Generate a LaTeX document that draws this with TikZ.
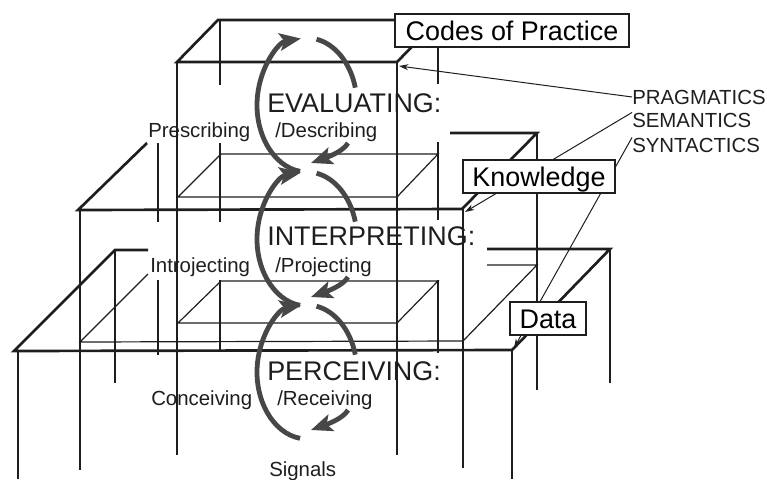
\documentclass[tikz,border=0pt]{standalone}
\usepackage{fontspec}
\setmainfont{Liberation Sans}
\usetikzlibrary{arrows.meta}
\definecolor{ink}{HTML}{1E1E1E}
\definecolor{loopc}{HTML}{474747}
\begin{document}
\begin{tikzpicture}[x=0.75pt,y=-0.75pt,
  plane/.style={draw=ink,line width=2pt,line join=miter},
  innerplane/.style={draw=ink,line width=0.9pt},
  post/.style={draw=ink,line width=0.8pt},
  loopline/.style={draw=loopc,line width=3.6pt},
  looparrow/.style={draw=loopc,line width=3.6pt,-{Stealth[length=16pt,width=13pt,inset=3.5pt]}},
  pointer/.style={draw=ink,line width=0.75pt,-{Stealth[length=7pt,width=4.5pt]}},
  labelbox/.style={draw=ink,line width=0.9pt,fill=white,font=\fontsize{20.2}{24}\selectfont,text height=14.5pt,text depth=0pt,inner sep=0pt,minimum height=24.75pt},
  big/.style={font=\fontsize{20.2}{24}\selectfont,anchor=base west,inner sep=0pt,text=ink},
  small/.style={font=\fontsize{15.3}{18}\selectfont,anchor=base west,inner sep=0pt,text=ink},
]
\useasboundingbox (0,0) rectangle (767,479);

% ---------- posts ----------
% top column
\draw[post] (177,62) -- (177,455);
\draw[post] (397,62) -- (397,455);
\draw[post] (220,20) -- (220,85) (220,143) -- (220,222) (220,280) -- (220,352);
\draw[post] (438,20) -- (438,84) (438,142) -- (438,220) (438,280) -- (438,353);
% middle column
\draw[post] (80,210) -- (80,470);
\draw[post] (463,209) -- (463,468);
\draw[post] (158,143) -- (158,222) (158,280) -- (158,355);
\draw[post] (537,133) -- (537,390);
% bottom column
\draw[post] (18,351) -- (18,479);
\draw[post] (512,350) -- (512,479);
\draw[post] (115,250) -- (115,383);
\draw[post] (610,249) -- (610,383);

% ---------- planes ----------
% top (pragmatics)
\draw[plane] (177,62) -- (218,20) -- (438,20) -- (397,62) -- cycle;
% footprints of the top column
\draw[innerplane] (178,197) -- (221,154) -- (438,154) -- (397,197) -- cycle;
\draw[innerplane] (178,323) -- (221,281) -- (438,281) -- (397,323) -- cycle;
% middle (semantics)
\draw[plane] (147,143) -- (78,210) -- (462,209) -- (537,133) -- (450,133);
% footprint of the middle column
\draw[innerplane] (148,274) -- (80,342) -- (463,341) -- (537,265) -- (487,265);
% bottom (syntactics)
\draw[plane] (148,250) -- (115,250) -- (14,351) -- (512,350) -- (610,249) -- (487,249);

% ---------- cycles ----------
\coordinate (c1) at (307,105);
\coordinate (c2) at (307,239);
\coordinate (c3) at (307,372);
\foreach \c in {c1,c2,c3}{
  \draw[looparrow] (\c) ++(98:50 and 67) arc[start angle=98,end angle=263,x radius=50,y radius=67];
  \draw[loopline] (\c) ++(281:50 and 67) arc[start angle=281,end angle=345,x radius=50,y radius=67];
  \draw[looparrow] (\c) ++(41,38) .. controls +(-5,9) and +(14,-5) .. ++(-37,20);
}

% ---------- texts ----------
\node[big] (eval) at (267,112) {EVALUATING:};
\node[big] (interp) at (267,245) {INTERPRETING:};
\node[big] (perc) at (267,380) {PERCEIVING:};
\node[small] (presc) at (148,137) {Prescribing};
\node[small] (descr) at (275,137) {/Describing};
\node[small] (intro) at (150,272) {Introjecting};
\node[small] (proj) at (275,272) {/Projecting};
\node[small] (conc) at (151,405) {Conceiving};
\node[small] (recv) at (277,405) {/Receiving};
\node[small] (sig) at (269,476) {Signals};
\node[small] (prag) at (632,104) {PRAGMATICS};
\node[small] (sem) at (632,127) {SEMANTICS};
\node[small] (syn) at (632,152) {SYNTACTICS};

% ---------- pointers ----------
\coordinate (tFR) at (399,66);
\coordinate (mFR) at (465,212);
\coordinate (bFR) at (514,348);
\draw[pointer] (prag.west) -- (tFR);
\draw[pointer] (sem.north west) -- (mFR);
\draw[pointer] (syn.north west) -- (bFR);

% ---------- level boxes ----------
\node[labelbox,minimum width=175.5pt] (codes) at (512,30.5) {Codes of Practice};
\node[labelbox,minimum width=114pt] (know) at (539,176.5) {Knowledge};
\node[labelbox,minimum width=57pt] (data) at (548,318.5) {Data};
\end{tikzpicture}
\end{document}
